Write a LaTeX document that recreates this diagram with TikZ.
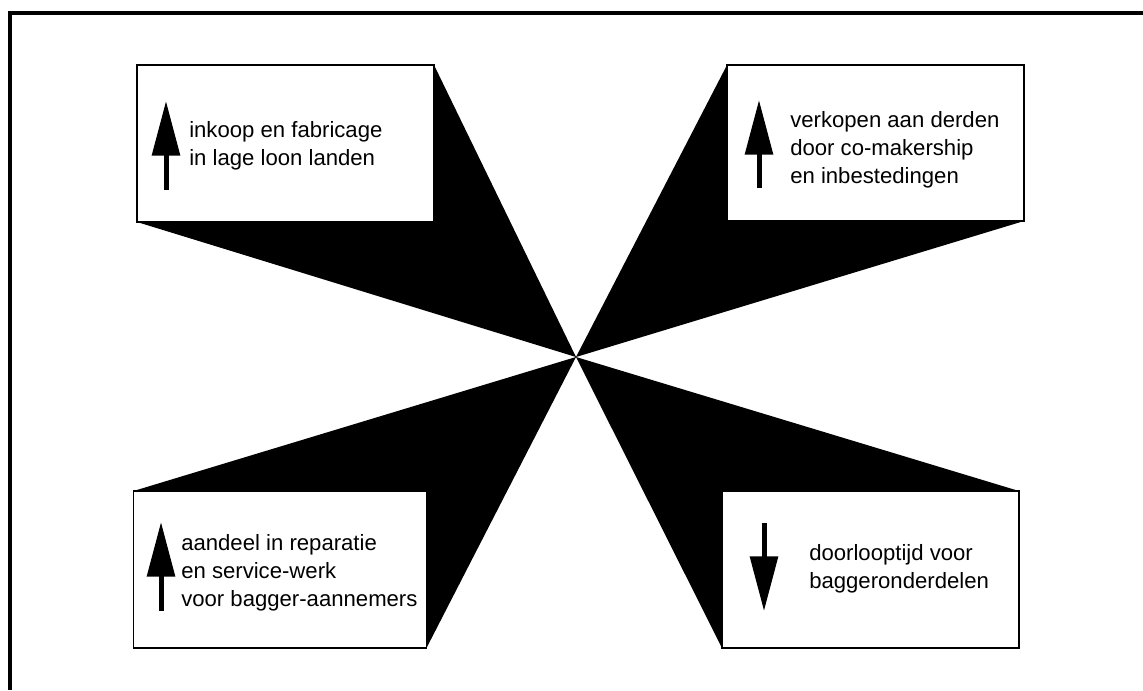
\documentclass[tikz,border=0pt]{standalone}
\usepackage{fontspec}
\setmainfont{Liberation Sans}
\usetikzlibrary{arrows.meta,backgrounds}
\begin{document}
\begin{tikzpicture}[x=0.75pt,y=-0.75pt,
  card/.style={draw=black, fill=white, line width=1.3pt, rectangle,
    inner sep=0pt, outer sep=0pt},
  label/.style={anchor=base west, inner sep=0pt, align=left,
    font=\fontsize{16.6}{21}\selectfont},
  trend/.style={line width=3.75pt,
    -{Triangle[length=41pt,width=20.5pt]}}]
\useasboundingbox (0,0) rectangle (1143,690);
% outer frame: top and left rules
\draw[line width=2.4pt] (10,690) -- (10,13) -- (1143,13);

% the four cards
\node[card, minimum width=222.75pt, minimum height=117.75pt] (tl) at (285.5,143.5) {};
\node[card, minimum width=222.75pt, minimum height=117pt]    (tr) at (875.5,143)   {};
\node[card, minimum width=219.75pt, minimum height=117.75pt] (bl) at (280,569.5)   {};
\node[card, minimum width=222.75pt, minimum height=117.75pt] (br) at (870.5,569.5) {};

% common centre of the star
\coordinate (c) at (576,357);

% black wedges behind the cards
\begin{scope}[on background layer]
  \fill (tl.south west) -- (c) -- (tl.north east) -- cycle;
  \fill (tr.north west) -- (c) -- (tr.south east) -- cycle;
  \fill (bl.north west) -- (c) -- (bl.south east) -- cycle;
  \fill (br.north east) -- (c) -- (br.south west) -- cycle;
\end{scope}

% trend arrows
\coordinate (tla) at (166,190); \coordinate (tlb) at (166,101);
\coordinate (tra) at (759,188); \coordinate (trb) at (759,100);
\coordinate (bla) at (161,611); \coordinate (blb) at (161,522);
\coordinate (bra) at (764,523); \coordinate (brb) at (764,611);
\draw[trend] (tla) -- (tlb);
\draw[trend] (tra) -- (trb);
\draw[trend] (bla) -- (blb);
\draw[trend] (bra) -- (brb);

% texts (anchored at the baseline of the last line)
\node[label] (tlt) at (189,165) {inkoop en fabricage\\in lage loon landen};
\node[label] (trt) at (790,183) {verkopen aan derden\\door co-makership\\en inbestedingen};
\node[label] (blt) at (181,606) {aandeel in reparatie\\en service-werk\\voor bagger-aannemers};
\node[label] (brt) at (809,588) {doorlooptijd voor\\baggeronderdelen};
\end{tikzpicture}
\end{document}
